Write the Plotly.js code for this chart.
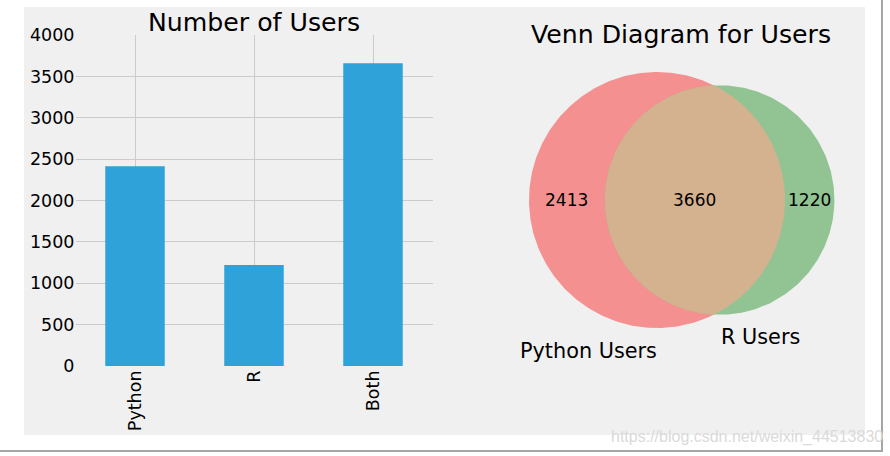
<!DOCTYPE html>
<html><head><meta charset="utf-8">
<script src="https://cdn.plot.ly/plotly-3.0.1.min.js"></script>
<style>html,body{margin:0;padding:0;background:#fff;} #chart{width:890px;height:456px;}</style>
</head><body><div id="chart"></div>
<script>
// ---- data ----
const categories = ['Python', 'R', 'Both'];
const userCounts = [2413, 1220, 3660];
const yTickVals = [0, 500, 1000, 1500, 2000, 2500, 3000, 3500, 4000];
const yTickText = ['0', '500', '1000', '1500', '2000', '2500', '3000', '3500', '4000'];
const vennCounts = [2413, 1220, 3660]; // Python only, R only, both
const setLabels = ['Python Users', 'R Users'];
const chartTitles = ['Number of Users', 'Venn Diagram for Users'];
const watermark = 'https://blog.csdn.net/weixin_44513830';

// ---- layout helpers ----
const W = 890, H = 456;
const fx = px => px / W;
const fy = py => 1 - py / H;
const FONT = 'DejaVu Sans, sans-serif';

// ---- venn geometry derived from data ----
const areaP = vennCounts[0] + vennCounts[2];
const areaR = vennCounts[1] + vennCounts[2];
const r1 = Math.sqrt(areaP / Math.PI);
const r2 = Math.sqrt(areaR / Math.PI);
function lensArea(d) {
  if (d >= r1 + r2) return 0;
  if (d <= Math.abs(r1 - r2)) return Math.PI * Math.min(r1, r2) ** 2;
  const a = r1 * r1 * Math.acos((d * d + r1 * r1 - r2 * r2) / (2 * d * r1));
  const b = r2 * r2 * Math.acos((d * d + r2 * r2 - r1 * r1) / (2 * d * r2));
  const c = 0.5 * Math.sqrt((-d + r1 + r2) * (d + r1 - r2) * (d - r1 + r2) * (d + r1 + r2));
  return a + b - c;
}
let lo = Math.abs(r1 - r2), hi = r1 + r2;
for (let i = 0; i < 100; i++) {
  const mid = (lo + hi) / 2;
  if (lensArea(mid) > vennCounts[2]) lo = mid; else hi = mid;
}
const dist = (lo + hi) / 2;
const cP = [0, 0], cR = [dist, 0];

function arc(cx, cy, r, a0, a1, n) {
  const xs = [], ys = [];
  for (let i = 0; i <= n; i++) {
    const t = a0 + (a1 - a0) * i / n;
    xs.push(cx + r * Math.cos(t)); ys.push(cy + r * Math.sin(t));
  }
  return [xs, ys];
}
const circP = arc(cP[0], cP[1], r1, 0, 2 * Math.PI, 360);
const circR = arc(cR[0], cR[1], r2, 0, 2 * Math.PI, 360);
const x0 = (dist * dist + r1 * r1 - r2 * r2) / (2 * dist);
const y0 = Math.sqrt(r1 * r1 - x0 * x0);
const aP = Math.atan2(y0, x0);
const aR = Math.atan2(y0, x0 - dist);
const lensA = arc(cP[0], cP[1], r1, -aP, aP, 200);
const lensB = arc(cR[0], cR[1], r2, aR, 2 * Math.PI - aR, 200);
const lensX = lensA[0].concat(lensB[0]);
const lensY = lensA[1].concat(lensB[1]);

// venn axes: Python circle radius maps to 128 px, centre at px (657,200)
const k = r1 / 128;
const vx0 = 470, vx1 = 870, vy0 = 50, vy1 = 410, pcx = 657, pcy = 200;
const xr2 = [(vx0 - pcx) * k, (vx1 - pcx) * k];
const yr2 = [-(vy1 - pcy) * k, (pcy - vy0) * k];

const traces = [
  {type: 'bar', x: categories, y: userCounts, width: 0.5,
   marker: {color: '#30a2da', line: {width: 0}}, xaxis: 'x', yaxis: 'y', hoverinfo: 'skip'},
  {type: 'scatter', mode: 'lines', x: circP[0], y: circP[1], fill: 'toself',
   fillcolor: '#f59090', line: {width: 0, color: '#f59090'}, xaxis: 'x2', yaxis: 'y2', hoverinfo: 'skip'},
  {type: 'scatter', mode: 'lines', x: circR[0], y: circR[1], fill: 'toself',
   fillcolor: '#92c392', line: {width: 0, color: '#92c392'}, xaxis: 'x2', yaxis: 'y2', hoverinfo: 'skip'},
  {type: 'scatter', mode: 'lines', x: lensX, y: lensY, fill: 'toself',
   fillcolor: '#d5b28f', line: {width: 0, color: '#d5b28f'}, xaxis: 'x2', yaxis: 'y2', hoverinfo: 'skip'}
];

const numFont = {family: FONT, size: 17, color: '#000'};
const midP = ((cP[0] - r1) + (cR[0] - r2)) / 2;
const midB = ((cR[0] - r2) + (cP[0] + r1)) / 2;
const midR = ((cP[0] + r1) + (cR[0] + r2)) / 2;

const annotations = [
  {xref: 'paper', yref: 'paper', x: fx(254), y: fy(22), text: chartTitles[0], showarrow: false,
   xanchor: 'center', yanchor: 'middle', font: {family: FONT, size: 25.2, color: '#000'}},
  {xref: 'paper', yref: 'paper', x: fx(681), y: fy(35), text: chartTitles[1], showarrow: false,
   xanchor: 'center', yanchor: 'middle', font: {family: FONT, size: 25.2, color: '#000'}},
  {xref: 'x2', yref: 'y2', x: midP, y: 0, text: String(vennCounts[0]), showarrow: false, font: numFont},
  {xref: 'x2', yref: 'y2', x: midB, y: 0, text: String(vennCounts[2]), showarrow: false, font: numFont},
  {xref: 'x2', yref: 'y2', x: midR, y: 0, text: String(vennCounts[1]), showarrow: false, font: numFont},
  {xref: 'x2', yref: 'y2', x: cP[0] - 0.539 * r1, y: cP[1] - 1.176 * r1, text: setLabels[0], showarrow: false,
   font: {family: FONT, size: 20.8, color: '#000'}},
  {xref: 'x2', yref: 'y2', x: cR[0] + 0.357 * r2, y: cR[1] - 1.196 * r2, text: setLabels[1], showarrow: false,
   font: {family: FONT, size: 20.8, color: '#000'}},
  {xref: 'paper', yref: 'paper', x: fx(609), y: fy(437), text: watermark, showarrow: false,
   xanchor: 'left', yanchor: 'middle', font: {family: 'Liberation Sans, Arial, sans-serif', size: 16, color: '#dadada'}}
];

const shapes = [
  {type: 'rect', xref: 'paper', yref: 'paper', x0: fx(24), x1: fx(865), y0: fy(435), y1: fy(7),
   fillcolor: '#f0f0f0', line: {width: 0}, layer: 'below'},
  {type: 'line', xref: 'paper', yref: 'paper', x0: 0, x1: fx(883), y0: fy(451), y1: fy(451),
   line: {color: '#a6a6a6', width: 2}},
  {type: 'line', xref: 'paper', yref: 'paper', x0: fx(882), x1: fx(882), y0: fy(452), y1: 1,
   line: {color: '#a6a6a6', width: 2}}
];

const tickFont = {family: FONT, size: 17.5, color: '#000'};
const layout = {
  width: W, height: H,
  margin: {l: 0, r: 0, t: 0, b: 0, pad: 0},
  paper_bgcolor: '#ffffff', plot_bgcolor: 'rgba(0,0,0,0)',
  showlegend: false,
  xaxis: {domain: [fx(75.5), fx(432.5)], type: 'category', range: [-0.5, 2.5],
          showgrid: true, gridcolor: '#cbcbcb', gridwidth: 1, zeroline: false, showline: false,
          ticks: '', tickangle: -90, tickfont: tickFont, fixedrange: true},
  yaxis: {domain: [fy(366), fy(35)], range: [0, 4000], tickvals: yTickVals, ticktext: yTickText,
          showgrid: true, gridcolor: '#cbcbcb', gridwidth: 1, zeroline: false, showline: false,
          ticks: '', tickfont: tickFont, fixedrange: true},
  xaxis2: {domain: [fx(vx0), fx(vx1)], range: xr2, visible: false, showgrid: false, zeroline: false},
  yaxis2: {domain: [fy(vy1), fy(vy0)], range: yr2, visible: false, showgrid: false, zeroline: false},
  annotations: annotations,
  shapes: shapes
};

Plotly.newPlot('chart', traces, layout, {displayModeBar: false, staticPlot: true});
</script>
</body></html>
